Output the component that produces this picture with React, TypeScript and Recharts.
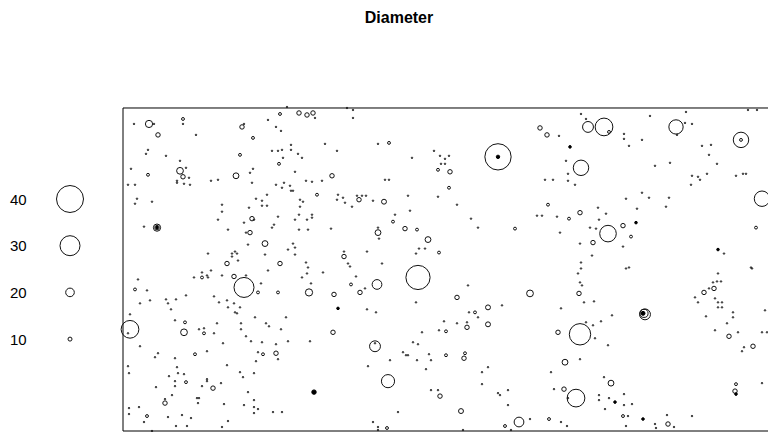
import { ScatterChart, Scatter, XAxis, YAxis, ReferenceArea } from "recharts";

// stem map: x, y positions in plot units, d = stem diameter
const legendValues = [40, 30, 20, 10];

// diameter -> drawn radius
const sizeStopsD = [0, 10, 20, 30, 40];
const sizeStopsR = [0.6, 2, 4.3, 10, 13.5];

// very small stems (d ~ 1)
const dots: [number, number][] = [
  [164, 325], [192, 314], [11, 308], [31, 308], [60, 308], [121, 308], [73, 297], [145, 312],
  [153, 305], [158, 301], [202, 288], [168, 287], [168, 282], [25, 282], [23, 278], [43, 276],
  [57, 271], [149, 281], [155, 281], [159, 282], [175, 278], [179, 274], [160, 274], [8, 263],
  [63, 264], [54, 251], [54, 249], [66, 254], [67, 247], [5, 247], [12, 247], [61, 248],
  [88, 251], [95, 252], [127, 259], [130, 263], [129, 249], [172, 260], [153, 247], [159, 244],
  [161, 249], [167, 246], [168, 241], [170, 241], [183, 251], [189, 250], [199, 251], [14, 233],
  [12, 228], [29, 230], [99, 227], [99, 220], [95, 212], [133, 233], [139, 231], [139, 226],
  [144, 226], [144, 237], [126, 224], [177, 232], [180, 230], [177, 225], [189, 217], [189, 214],
  [176, 217], [172, 212], [184, 212], [155, 215], [131, 212], [121, 209], [21, 205], [105, 202],
  [149, 204], [151, 207], [176, 202], [185, 202], [208, 203], [123, 199], [125, 187], [170, 188],
  [172, 184], [165, 182], [172, 177], [85, 178], [109, 178], [112, 180], [114, 178], [109, 175],
  [142, 177], [183, 169], [185, 164], [115, 171],
  [79, 159], [84, 156], [85, 154], [71, 154], [88, 161], [99, 156], [123, 156], [138, 148],
  [145, 161], [184, 158], [179, 154], [188, 148], [200, 159], [15, 152], [24, 141], [17, 128],
  [27, 131], [43, 132], [45, 128], [48, 122], [53, 132], [63, 136], [91, 135], [96, 129],
  [104, 131], [105, 124], [111, 128], [112, 119], [114, 118], [117, 124], [7, 117], [5, 98],
  [52, 111], [76, 102], [81, 103], [91, 98], [94, 108], [118, 108], [118, 102], [132, 114],
  [143, 108], [146, 105], [158, 102], [163, 114], [123, 95], [128, 90], [139, 89], [153, 87],
  [165, 90], [187, 90], [100, 88], [17, 85], [35, 78], [32, 74], [52, 73], [84, 80],
  [135, 79], [155, 72], [133, 70], [5, 65], [6, 58], [54, 64], [46, 55], [52, 50],
  [55, 58], [61, 57], [84, 52], [84, 50], [98, 48], [104, 66], [117, 59], [120, 54],
  [131, 58], [79, 45], [52, 45], [33, 44], [125, 39], [42, 32], [49, 36], [74, 33],
  [76, 33], [75, 28], [101, 27], [121, 26], [131, 31], [131, 24], [135, 22], [131, 18],
  [6, 23], [6, 17], [16, 24], [21, 9], [45, 14], [59, 16], [68, 13], [53, 5],
  [64, 5], [29, 0], [99, 4], [105, 10], [150, 19], [159, 19],
  [224, 324], [230, 322], [230, 314], [214, 281], [255, 288], [289, 274], [311, 281], [317, 276],
  [322, 273], [326, 276], [318, 268], [322, 268], [262, 252], [266, 252], [422, 252], [215, 237],
  [220, 234], [222, 229], [229, 225], [214, 232], [234, 236], [239, 236], [243, 236], [250, 231],
  [285, 236], [315, 235], [334, 227], [414, 216], [419, 216], [287, 221], [272, 217], [348, 213],
  [355, 204], [255, 204], [256, 193], [296, 183], [302, 183], [293, 178], [221, 180], [225, 168],
  [227, 165], [244, 180], [259, 168],
  [233, 155], [242, 143], [345, 146], [293, 129], [244, 122], [253, 119], [379, 126], [346, 119],
  [355, 114], [321, 110], [334, 108], [344, 109], [316, 101], [299, 99], [252, 88], [290, 89],
  [295, 87], [280, 79], [283, 76], [285, 76], [267, 71], [294, 71], [306, 77], [308, 71],
  [303, 62], [245, 65], [365, 64], [359, 59], [359, 47], [308, 41], [315, 41], [375, 38],
  [377, 36], [385, 41], [385, 26], [275, 19], [250, 9], [255, 4], [255, 1], [340, 1],
  [388, 1], [407, 12],
  [458, 318], [463, 313], [436, 296], [527, 316], [563, 320], [554, 297], [562, 309], [569, 308],
  [625, 322], [634, 322], [501, 298], [501, 293], [519, 292], [506, 286], [579, 286], [588, 287],
  [586, 277], [594, 268], [443, 271], [532, 266], [547, 269], [430, 252], [445, 258], [445, 251],
  [452, 247], [569, 256], [575, 255], [577, 252], [584, 258], [568, 247], [613, 256], [620, 258],
  [623, 258], [503, 233], [519, 239], [526, 234], [546, 234], [543, 225], [514, 223], [475, 224],
  [483, 218], [434, 215], [476, 212], [467, 204], [473, 203], [500, 185], [437, 199], [457, 188],
  [601, 178], [469, 176], [458, 169], [458, 163], [503, 163], [506, 164], [629, 163],
  [455, 158], [457, 149], [459, 146], [461, 129], [471, 130], [438, 123], [489, 116], [478, 110],
  [463, 109], [470, 106], [472, 93], [485, 86], [457, 72], [428, 59], [481, 54], [431, 42],
  [445, 33], [476, 36], [476, 31], [486, 33], [501, 37], [501, 26], [509, 27], [482, 22],
  [438, 9], [444, 5], [505, 15], [503, 5], [532, 7], [533, 3], [551, 4], [544, 16],
  [569, 15], [586, 143], [595, 158], [594, 150], [598, 150], [590, 149], [572, 134], [575, 129],
  [592, 133], [595, 129], [599, 129], [595, 124], [599, 124], [610, 119], [610, 114], [604, 108],
  [583, 115], [592, 101], [615, 99], [621, 84], [619, 80], [642, 121], [639, 99], [644, 99],
  [639, 48], [628, 164],
];

// small stems (d ~ 6)
const tinyRings: [number, number][] = [
  [157, 318], [60, 313], [130, 294], [117, 277], [156, 268], [25, 257], [194, 237], [79, 154],
  [135, 139], [155, 139], [12, 142], [62, 109], [81, 98], [72, 77], [140, 77], [63, 49],
  [24, 15], [266, 289], [315, 262], [326, 244], [425, 227], [270, 210], [392, 203], [294, 202],
  [316, 179], [228, 147], [352, 119], [323, 100], [323, 76], [342, 78], [264, 3], [382, 5],
  [426, 12], [486, 300], [446, 213], [508, 195], [633, 204], [500, 15], [613, 47], [618, 292],
];

// stems d ~ 11
const smallRings: [number, number][] = [
  [176, 319], [184, 317], [190, 319], [35, 297], [119, 305], [60, 255], [209, 256], [129, 213],
  [127, 199], [104, 168], [157, 168], [111, 155], [211, 137], [153, 78], [90, 43], [42, 28],
  [417, 304], [424, 297], [327, 260], [236, 232], [282, 203], [221, 175], [237, 139], [334, 134],
  [344, 104], [210, 99], [341, 73], [317, 35], [457, 219], [500, 206], [470, 189], [456, 138],
  [435, 99], [441, 42], [545, 7], [581, 139], [591, 143], [606, 95], [630, 85], [612, 40],
];

// larger stems, explicit diameter
const bigTrees: [number, number, number][] = [
  [26, 308, 17], [57, 261, 16], [113, 256, 14], [142, 188, 14], [121, 144, 30], [186, 139, 17],
  [7, 102, 28], [61, 99, 16], [375, 275, 39], [255, 199, 14], [305, 192, 14], [254, 147, 21],
  [295, 154, 36], [252, 85, 22], [265, 50, 24], [407, 138, 16], [396, 9, 21], [453, 33, 28],
  [465, 305, 22], [481, 305, 28], [553, 305, 25], [618, 292, 26], [458, 264, 26], [639, 233, 26],
  [485, 198, 27], [522, 117, 22], [521, 118, 19], [457, 97, 32], [34, 204, 17], [34, 204, 11],
  [261, 230, 12], [365, 124, 12], [365, 107, 12], [338, 20, 12], [442, 69, 14], [488, 48, 14],
];

// stems drawn solid
const solidTrees: [number, number, number][] = [
  [191, 39, 11], [375, 275, 8], [520, 118, 10], [447, 285, 5], [513, 209, 5], [595, 182, 5],
  [492, 29, 5], [520, 12, 5], [613, 37, 5], [215, 123, 5], [34, 204, 5],
];

function radiusOf(d: number) {
  for (let i = 1; i < sizeStopsD.length; i++) {
    if (d <= sizeStopsD[i]) {
      const t = (d - sizeStopsD[i - 1]) / (sizeStopsD[i] - sizeStopsD[i - 1]);
      return sizeStopsR[i - 1] + t * (sizeStopsR[i] - sizeStopsR[i - 1]);
    }
  }
  return sizeStopsR[sizeStopsR.length - 1];
}

const toPoints = (list: [number, number][], d: number) => list.map(([x, y]) => ({ x, y, d }));
const toTrees = (list: [number, number, number][]) => list.map(([x, y, d]) => ({ x, y, d }));

const ring = (props: any) => (
  <circle
    cx={props.cx}
    cy={props.cy}
    r={radiusOf(props.payload.d)}
    fill="none"
    stroke="#111"
    strokeWidth={1}
  />
);

const solid = (props: any) => (
  <circle cx={props.cx} cy={props.cy} r={radiusOf(props.payload.d)} fill="#000" stroke="#000" strokeWidth={1} />
);

function SizeLegend() {
  return (
    <svg width={123} height={432} style={{ position: "absolute", left: 0, top: 0 }}>
      {legendValues.map((v, i) => {
        const cy = 199 + i * 46.7;
        return (
          <g key={v}>
            <text x={10} y={cy + 5.5} fontSize={15} fontFamily="'Liberation Sans', Arial, sans-serif" fill="#000">
              {v}
            </text>
            <circle cx={70} cy={cy} r={radiusOf(v)} fill="none" stroke="#111" strokeWidth={1} />
          </g>
        );
      })}
    </svg>
  );
}

export default function App() {
  return (
    <div
      style={{
        position: "fixed",
        left: 0,
        top: 0,
        width: 768,
        height: 432,
        overflow: "hidden",
        background: "#fff",
      }}
    >
      <div
        style={{
          position: "absolute",
          left: 0,
          top: 10,
          width: 798,
          textAlign: "center",
          fontFamily: "'Liberation Sans', Arial, sans-serif",
          fontWeight: "bold",
          fontSize: 16,
          lineHeight: "16px",
        }}
      >
        Diameter
      </div>
      <SizeLegend />
      <div style={{ position: "absolute", left: 0, top: 0 }}>
        <ScatterChart width={800} height={450} margin={{ top: 107, left: 123, right: 25, bottom: 19 }}>
          <XAxis type="number" dataKey="x" domain={[0, 652]} hide />
          <YAxis type="number" dataKey="y" domain={[0, 324]} hide />
          <ReferenceArea
            x1={0}
            x2={652}
            y1={0}
            y2={324}
            fill="none"
            fillOpacity={0}
            stroke="#000"
            strokeWidth={1}
            strokeOpacity={1}
            ifOverflow="visible"
          />
          <Scatter data={toPoints(dots, 1)} shape={ring} isAnimationActive={false} />
          <Scatter data={toPoints(tinyRings, 6)} shape={ring} isAnimationActive={false} />
          <Scatter data={toPoints(smallRings, 11)} shape={ring} isAnimationActive={false} />
          <Scatter data={toTrees(bigTrees)} shape={ring} isAnimationActive={false} />
          <Scatter data={toTrees(solidTrees)} shape={solid} isAnimationActive={false} />
        </ScatterChart>
      </div>
    </div>
  );
}
